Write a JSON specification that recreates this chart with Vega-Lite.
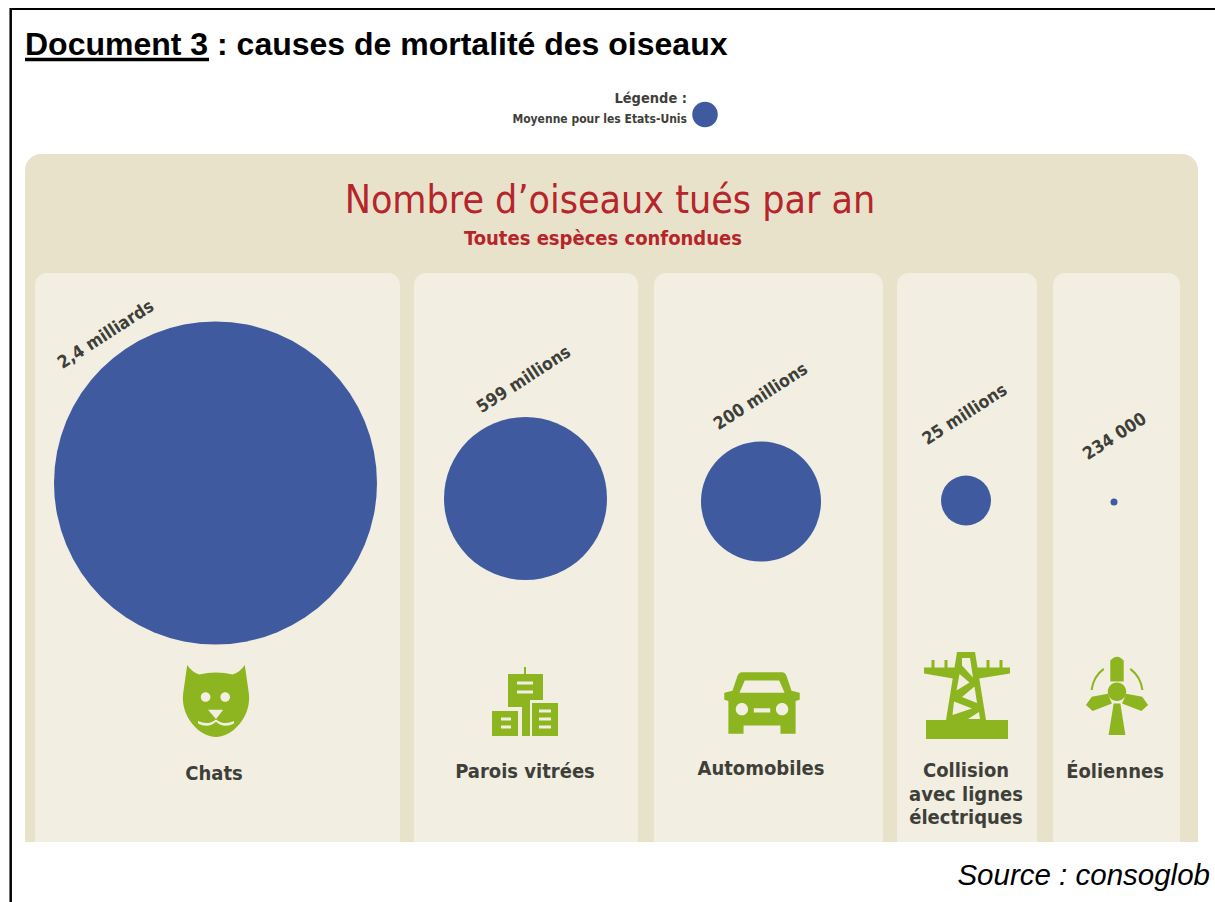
{
"$schema":"https://vega.github.io/schema/vega-lite/v6.json",
"width":1215,"height":902,
"autosize":{"type":"fit","contains":"padding"},
"padding":0,
"background":"white",
"view":{"stroke":null},
"datasets":{"causes":[
{"rang":1,"cause":"Chats","etiquette":"Chats","oiseaux_millions":2400,"libelle":"2,4 milliards"},
{"rang":2,"cause":"Parois vitrées","etiquette":"Parois vitrées","oiseaux_millions":599,"libelle":"599 millions"},
{"rang":3,"cause":"Automobiles","etiquette":"Automobiles","oiseaux_millions":200,"libelle":"200 millions"},
{"rang":4,"cause":"Collision","etiquette":"Collision\navec lignes\nélectriques","oiseaux_millions":25,"libelle":"25 millions"},
{"rang":5,"cause":"Éoliennes","etiquette":"Éoliennes","oiseaux_millions":0.234,"libelle":"234 000"}
]},
"layer":[
{"data":{"values":[{"zone":"fond"}]},"mark":{"type":"rect","color":"#e9e2ca","cornerRadiusTopLeft":16,"cornerRadiusTopRight":16},
 "encoding":{"x":{"datum":0,"type":"quantitative","scale":{"domain":[0,1],"range":[25,1198]},"axis":null},"x2":{"datum":1},
 "y":{"datum":0,"type":"quantitative","scale":{"domain":[0,1],"range":[154,842]},"axis":null},"y2":{"datum":1}}},
{"data":{"name":"causes"},"mark":{"type":"bar","orient":"vertical","color":"#f2efe2","cornerRadiusTopLeft":12,"cornerRadiusTopRight":12},
 "encoding":{"x":{"field":"rang","type":"quantitative","scale":{"domain":[1,2,3,4,5],"range":[217.5,526,768.5,967,1116.5],"padding":0},"axis":null},
 "size":{"field":"rang","type":"quantitative","scale":{"domain":[1,2,3,4,5],"range":[365,224,229,140,127]},"legend":null},
 "y":{"datum":0,"type":"quantitative","scale":{"domain":[0,1],"range":[273,842]},"axis":null},"y2":{"datum":1}}},
{"data":{"name":"causes"},"mark":{"type":"point","shape":"circle","filled":true,"opacity":1,"color":"#3f5a9f"},
 "encoding":{"x":{"field":"rang","type":"quantitative","scale":{"domain":[1,2,3,4,5],"range":[215.5,525.5,761,966,1114]},"axis":null},
 "y":{"field":"rang","type":"quantitative","scale":{"domain":[1,2,3,4,5],"range":[483,498.5,501.5,500.5,502]},"axis":null},
 "size":{"field":"oiseaux_millions","type":"quantitative","scale":{"domain":[0.234,25,200,599,2400],"range":[49,2500,14400,26569,104329]},"legend":null}}},
{"data":{"name":"causes"},"mark":{"type":"text","font":"DejaVu Sans Condensed","fontWeight":"bold","fontSize":17.5,"angle":327,"color":"#3f3f3a","align":"center","baseline":"middle"},
 "encoding":{"x":{"field":"rang","type":"quantitative","scale":{"domain":[1,2,3,4,5],"range":[106,524,761,965,1115]},"axis":null},
 "y":{"field":"rang","type":"quantitative","scale":{"domain":[1,2,3,4,5],"range":[335,380,397,415,437]},"axis":null},
 "text":{"field":"libelle"}}},
{"data":{"name":"causes"},"mark":{"type":"point","filled":true,"opacity":1,"color":"#8db51f"},
 "encoding":{"x":{"field":"rang","type":"quantitative","scale":{"domain":[1,2,3,4,5],"range":[216,525,762,967,1117]},"axis":null},
 "y":{"field":"rang","type":"quantitative","scale":{"domain":[1,2,3,4,5],"range":[701,702,703,695.5,695]},"axis":null},
 "size":{"field":"rang","type":"quantitative","scale":{"domain":[1,2,3,4,5],"range":[6400,6400,6724,10000,7056]},"legend":null},
 "shape":{"field":"cause","type":"nominal","legend":null,"scale":{"domain":["Chats","Parois vitrées","Automobiles","Collision","Éoliennes"],"range":[
 "M -0.72 -0.9 Q -0.6 -0.72 -0.42 -0.66 Q 0 -0.76 0.42 -0.66 Q 0.6 -0.72 0.72 -0.9 L 0.82 -0.2 C 0.9 0.4 0.4 0.9 0 0.9 C -0.4 0.9 -0.9 0.4 -0.82 -0.2 Z M -0.38 -0.1 A 0.12 0.12 0 1 0 -0.14 -0.1 A 0.12 0.12 0 1 0 -0.38 -0.1 Z M 0.11 -0.1 A 0.12 0.12 0 1 0 0.35 -0.1 A 0.12 0.12 0 1 0 0.11 -0.1 Z M -0.2 0.22 L 0 0.45 L 0.18 0.22 Z M -0.45 0.5 L -0.45 0.56 Q -0.2 0.7 0 0.52 L 0 0.46 Q -0.2 0.62 -0.45 0.5 Z M 0 0.46 L 0 0.52 Q 0.2 0.7 0.45 0.56 L 0.45 0.5 Q 0.2 0.62 0 0.46 Z",
 "M -0.425 -0.7 L -0.025 -0.7 L -0.025 -0.875 L 0.025 -0.875 L 0.025 -0.7 L 0.45 -0.7 L 0.45 -0.05 L 0.125 -0.05 L 0.125 0.85 L -0.075 0.85 L -0.075 0.125 L -0.425 0.125 Z M -0.2 -0.515 L -0.2 -0.435 L 0.2 -0.435 L 0.2 -0.515 Z M -0.2 -0.29 L -0.2 -0.21 L 0.2 -0.21 L 0.2 -0.29 Z M -0.825 0.225 L -0.175 0.225 L -0.175 0.85 L -0.825 0.85 Z M -0.6 0.385 L -0.6 0.465 L -0.35 0.465 L -0.35 0.385 Z M -0.6 0.585 L -0.6 0.665 L -0.35 0.665 L -0.35 0.585 Z M 0.175 0.025 L 0.825 0.025 L 0.825 0.85 L 0.175 0.85 Z M 0.35 0.185 L 0.35 0.265 L 0.65 0.265 L 0.65 0.185 Z M 0.35 0.385 L 0.35 0.465 L 0.65 0.465 L 0.65 0.385 Z M 0.35 0.585 L 0.35 0.665 L 0.65 0.665 L 0.65 0.585 Z",
 "M -0.5 -0.75 L 0.5 -0.75 Q 0.58 -0.75 0.62 -0.6 L 0.72 -0.3 L 0.92 -0.25 L 0.92 -0.08 L 0.82 -0.05 L 0.82 0.75 L 0.45 0.75 L 0.45 0.55 L -0.45 0.55 L -0.45 0.75 L -0.82 0.75 L -0.82 -0.05 L -0.92 -0.08 L -0.92 -0.25 L -0.72 -0.3 L -0.62 -0.6 Q -0.58 -0.75 -0.5 -0.75 Z M -0.42 -0.55 L -0.55 -0.25 L 0.55 -0.25 L 0.42 -0.55 Z M -0.64 0.15 A 0.15 0.15 0 1 0 -0.34 0.15 A 0.15 0.15 0 1 0 -0.64 0.15 Z M 0.34 0.15 A 0.15 0.15 0 1 0 0.64 0.15 A 0.15 0.15 0 1 0 0.34 0.15 Z M -0.2 0.13 L -0.2 0.23 L 0.2 0.23 L 0.2 0.13 Z",
 "M -0.2 -0.87 L 0.16 -0.87 L 0.38 0.49 L 0.82 0.49 L 0.82 0.87 L -0.82 0.87 L -0.82 0.49 L -0.42 0.49 Z M -0.1 -0.75 L -0.1 -0.6 L 0.12 -0.36 L 0.06 -0.75 Z M -0.15 -0.43 L -0.21 -0.1 L 0.05 -0.26 Z M 0.15 -0.18 L -0.1 0.03 L 0.2 0.15 Z M -0.26 0.12 L -0.29 0.39 L 0.1 0.26 Z M 0.24 0.33 L 0.02 0.47 L 0.26 0.47 Z M -0.86 -0.56 L -0.24 -0.56 L -0.28 -0.34 L -0.86 -0.44 Z M 0.2 -0.56 L 0.86 -0.56 L 0.86 -0.44 L 0.24 -0.34 Z M -0.71 -0.71 L -0.65 -0.71 L -0.65 -0.5 L -0.71 -0.5 Z M -0.45 -0.71 L -0.39 -0.71 L -0.39 -0.5 L -0.45 -0.5 Z M 0.39 -0.71 L 0.45 -0.71 L 0.45 -0.5 L 0.39 -0.5 Z M 0.65 -0.71 L 0.71 -0.71 L 0.71 -0.5 L 0.65 -0.5 Z",
 "M -0.16 -0.82 Q 0 -1 0.16 -0.82 L 0.16 -0.32 L -0.16 -0.32 Z M -0.22 -0.075 A 0.22 0.22 0 1 1 0.22 -0.075 A 0.22 0.22 0 1 1 -0.22 -0.075 Z M -0.6 0.04 L -0.22 -0.03 L -0.12 0.2 L -0.58 0.38 L -0.74 0.24 Z M 0.22 -0.03 L 0.6 0.04 L 0.74 0.24 L 0.58 0.38 L 0.12 0.2 Z M -0.08 0.2 L 0.08 0.2 L 0.2 0.95 L -0.2 0.95 Z M -0.33 -0.64 L -0.3 -0.6 Q -0.54 -0.42 -0.58 -0.12 L -0.63 -0.12 Q -0.58 -0.46 -0.33 -0.64 Z M 0.33 -0.64 Q 0.58 -0.46 0.63 -0.12 L 0.58 -0.12 Q 0.54 -0.42 0.3 -0.6 Z"
 ]}}}},
{"data":{"name":"causes"},"mark":{"type":"text","font":"DejaVu Sans Condensed","fontWeight":"bold","fontSize":20,"lineHeight":23.5,"lineBreak":"\n","color":"#3f3f3a","align":"center","baseline":"middle"},
 "encoding":{"x":{"field":"rang","type":"quantitative","scale":{"domain":[1,2,3,4,5],"range":[214,525,761,966,1115]},"axis":null},
 "y":{"field":"rang","type":"quantitative","scale":{"domain":[1,2,3,4,5],"range":[774,772,769,771,772]},"axis":null},
 "text":{"field":"etiquette"}}},
{"data":{"values":[{"texte":"Document 3 : causes de mortalité des oiseaux"}]},"mark":{"type":"text","font":"Liberation Sans","fontWeight":"bold","fontSize":32,"color":"#000000","align":"left","baseline":"alphabetic"},
 "encoding":{"x":{"datum":0,"type":"quantitative","scale":{"domain":[0,1],"range":[25,26]},"axis":null},"y":{"datum":0,"type":"quantitative","scale":{"domain":[0,1],"range":[55,56]},"axis":null},"text":{"field":"texte"}}},
{"data":{"values":[{"zone":"soulignement"}]},"mark":{"type":"rule","color":"#000000","strokeWidth":3.5},
 "encoding":{"x":{"datum":0,"type":"quantitative","scale":{"domain":[0,1],"range":[25,209]},"axis":null},"x2":{"datum":1},"y":{"datum":0,"type":"quantitative","scale":{"domain":[0,1],"range":[59.5,60]},"axis":null}}},
{"data":{"values":[{"texte":"Légende :","ordre":0},{"texte":"Moyenne pour les Etats-Unis","ordre":1}]},"mark":{"type":"text","font":"DejaVu Sans Condensed","fontWeight":"bold","color":"#3f3f3a","align":"right","baseline":"middle"},
 "encoding":{"x":{"field":"ordre","type":"quantitative","scale":{"domain":[0,1],"range":[687,687]},"axis":null},"y":{"field":"ordre","type":"quantitative","scale":{"domain":[0,1],"range":[99,119]},"axis":null},
 "size":{"field":"ordre","type":"quantitative","scale":{"domain":[0,1],"range":[14.5,12]},"legend":null},"text":{"field":"texte"}}},
{"data":{"values":[{"zone":"légende"}]},"mark":{"type":"point","shape":"circle","filled":true,"opacity":1,"color":"#3f5a9f","size":650},
 "encoding":{"x":{"datum":0,"type":"quantitative","scale":{"domain":[0,1],"range":[705,706]},"axis":null},"y":{"datum":0,"type":"quantitative","scale":{"domain":[0,1],"range":[114.5,115]},"axis":null}}},
{"data":{"values":[{"texte":"Nombre d’oiseaux tués par an"}]},"mark":{"type":"text","font":"DejaVu Sans Condensed","fontWeight":"normal","fontSize":39,"color":"#b5252b","align":"center","baseline":"alphabetic"},
 "encoding":{"x":{"datum":0,"type":"quantitative","scale":{"domain":[0,1],"range":[610,611]},"axis":null},"y":{"datum":0,"type":"quantitative","scale":{"domain":[0,1],"range":[213,214]},"axis":null},"text":{"field":"texte"}}},
{"data":{"values":[{"texte":"Toutes espèces confondues"}]},"mark":{"type":"text","font":"DejaVu Sans Condensed","fontWeight":"bold","fontSize":20,"color":"#b5252b","align":"center","baseline":"alphabetic"},
 "encoding":{"x":{"datum":0,"type":"quantitative","scale":{"domain":[0,1],"range":[603,604]},"axis":null},"y":{"datum":0,"type":"quantitative","scale":{"domain":[0,1],"range":[245,246]},"axis":null},"text":{"field":"texte"}}},
{"data":{"values":[{"texte":"Source : consoglob"}]},"mark":{"type":"text","font":"Liberation Sans","fontStyle":"italic","fontSize":29.5,"color":"#000000","align":"right","baseline":"alphabetic"},
 "encoding":{"x":{"datum":0,"type":"quantitative","scale":{"domain":[0,1],"range":[1210,1211]},"axis":null},"y":{"datum":0,"type":"quantitative","scale":{"domain":[0,1],"range":[885,886]},"axis":null},"text":{"field":"texte"}}},
{"data":{"values":[{"zone":"cadre haut"}]},"mark":{"type":"rule","color":"#000000","strokeWidth":2},
 "encoding":{"x":{"datum":0,"type":"quantitative","scale":{"domain":[0,1],"range":[10,1215]},"axis":null},"x2":{"datum":1},"y":{"datum":0,"type":"quantitative","scale":{"domain":[0,1],"range":[9,10]},"axis":null}}},
{"data":{"values":[{"zone":"cadre gauche"}]},"mark":{"type":"rule","color":"#000000","strokeWidth":2.5},
 "encoding":{"x":{"datum":0,"type":"quantitative","scale":{"domain":[0,1],"range":[10.7,11]},"axis":null},"y":{"datum":0,"type":"quantitative","scale":{"domain":[0,1],"range":[8,902]},"axis":null},"y2":{"datum":1}}}
],
"resolve":{"scale":{"x":"independent","y":"independent","size":"independent","shape":"independent","color":"independent"}}
}
